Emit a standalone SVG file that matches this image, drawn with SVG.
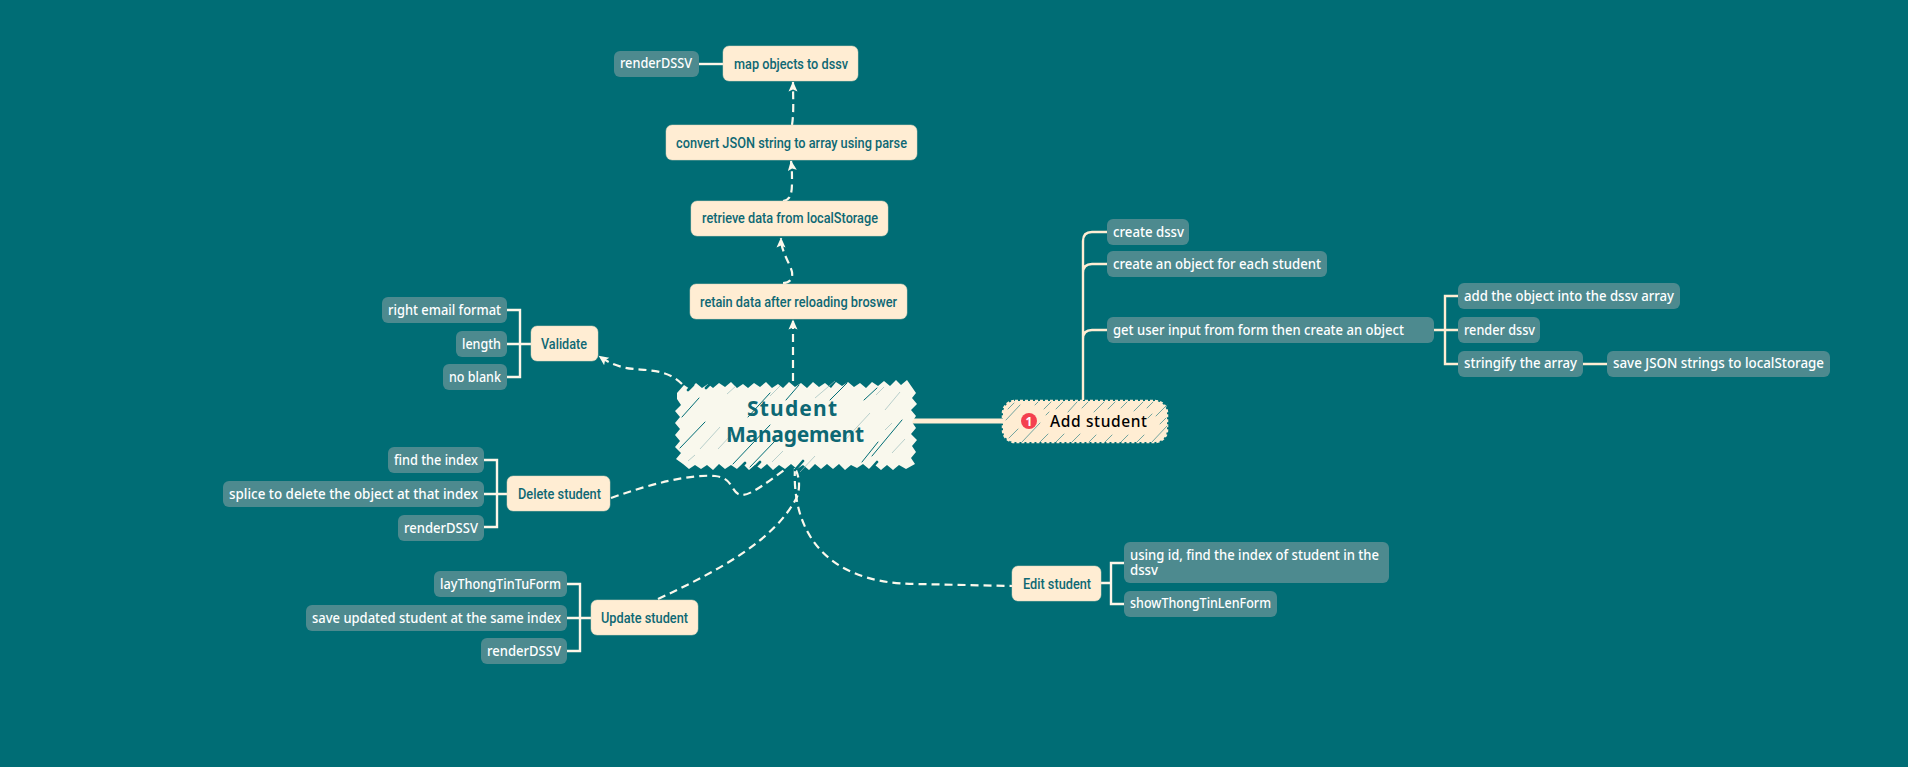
<svg xmlns="http://www.w3.org/2000/svg" width="1908" height="767" viewBox="0 0 1908 767">
<style>
.n{fill:#FFEDD3;stroke:#d8d4bd;stroke-width:.5}
.k{fill:#4D8A8F}
.nt{font:500 14px Roboto,"Liberation Sans",sans-serif;fill:#0E6874}
.kt{font:500 13.5px "Noto Sans","Liberation Sans",sans-serif;fill:#fff}
.dash{fill:none;stroke:#FBF8EC;stroke-width:2.2;stroke-dasharray:8 5}
.ln{fill:none;stroke:#FDF6E8;stroke-width:2.4}
.cr{fill:none;stroke:#FFEDD3;stroke-width:2.4}
.h{fill:none;stroke:#006D75;stroke-linecap:round}
.hl{fill:none;stroke:#9CBDBB;stroke-width:.7}
.h2{fill:none;stroke:#4E9092;stroke-width:.8;stroke-linecap:round}
.rt{font:700 21px "Noto Sans",sans-serif;fill:#0E6874}
</style>
<defs>
<marker id="ar" markerUnits="userSpaceOnUse" markerWidth="11" markerHeight="11" refX="9.5" refY="5" orient="auto"><path d="M0 .5L10 5L0 9.5L2 5Z" fill="#FBF8EC"/></marker>
</defs>
<rect width="1908" height="767" fill="#006D75"/>
<g id="connectors">
<path class="dash" marker-end="url(#ar)" d="M682 384C664 366 640 372 622 367C612 364 606 361 599 356"/>
<path class="dash" marker-end="url(#ar)" d="M793 381V320"/>
<path class="dash" marker-end="url(#ar)" d="M783 283C790 283 793 279 792 272C790 263 781 252 781 238"/>
<path class="dash" marker-end="url(#ar)" d="M783 201C790 200 792 195 792 182C792 174 792 168 791 161"/>
<path class="dash" marker-end="url(#ar)" d="M792 125C794 112 793 98 793 82"/>
<path class="dash" d="M611 498C650 484 690 474 715 476C735 478 730 494 742 495C752 495 770 480 787 468"/>
<path class="dash" d="M658 599C720 570 775 540 797 497C800 488 800 478 795 468"/>
<path class="dash" d="M795 468C792 520 815 584 917 584L1013 586"/>
<path d="M906 421H1004" fill="none" stroke="#FFEDD3" stroke-width="5"/>
<path class="cr" d="M1083 400V241Q1083 232 1092 232H1107M1083 273Q1083 264 1092 264H1107M1083 339Q1083 330 1092 330H1107"/>
<path class="cr" d="M1434 330H1458M1458 296H1445V364H1458M1583 364H1607"/>
<path class="ln" d="M699 64H723"/>
<path class="ln" d="M507 310H520V377H507M507 344H531"/>
<path class="ln" d="M484 460H497V527H484M484 494H507"/>
<path class="ln" d="M567 584H580V651H567M567 618H591"/>
<path class="ln" d="M1101 583H1111M1124 563H1111V604H1124"/>
</g>
<g id="root">
<polygon fill="#F9F8ED" points="677,393 684,385 690,389 696,383 702,388 708,384 713,388 719,383 725,387 731,382 737,388 743,384 748,388 754,383 760,387 766,382 772,388 778,384 783,388 789,382 795,387 801,383 807,388 813,382 819,387 825,383 831,388 836,382 842,386 848,382 854,387 860,383 866,388 872,382 878,386 884,381 890,386 896,380 901,385 907,380 916,393 912,398 917,404 911,410 916,416 912,422 916,428 911,434 917,440 912,446 916,452 911,458 915,464 906,469 899,465 893,470 887,465 881,470 875,465 869,469 863,464 857,468 851,465 845,470 839,464 833,469 827,464 821,469 815,464 809,470 803,465 797,469 791,464 785,469 779,465 773,470 767,464 761,469 755,465 749,470 743,464 737,469 731,465 725,469 719,464 713,470 707,465 701,469 695,465 689,469 683,464 676,459 681,453 675,447 680,441 675,435 680,429 675,423 680,417 675,411 681,405 677,399"/>
<path class="h" stroke-width="1" d="M682 417L699 398M680 448L705 422M733 464L770 425M750 467L775 441M748 417L770 393M830 400L847 383M864 400L877 388M786 400L799 385M902 420L872 456M878 442L862 462"/>
<path class="h" stroke-width="2.6" d="M738 470L745 463M752 470L760 462M869 471L877 462M795 470L803 461M688 390L693 385M706 388L712 382"/>
<path class="hl" d="M700 449L720 427M718 449L733 433M800 472L815 456M688 461L695 455M727 394L736 386M770 396L780 386M845 440L870 413M885 410L900 392M876 395L884 387M892 453L905 439M815 398L835 381M772 462L783 451M885 430L892 423"/>
<text class="rt" x="747" y="416" textLength="90" lengthAdjust="spacing">Student</text>
<text class="rt" x="726" y="442" textLength="138" lengthAdjust="spacing">Management</text>
</g>
<g id="add-student">
<rect x="1003" y="401" width="164" height="41" rx="12" fill="#FFEDD3" stroke="#FFEDD3" stroke-width="2.5" stroke-dasharray="3 2"/>
<path class="h2" d="M1008 409L1014 403M1006 420L1020 405M1009 438L1018 429M1022 442L1040 423M1035 405L1038 402M1044 409L1051 402M1056 409L1063 402M1068 412L1077 402M1082 408L1088 402M1094 412L1104 402M1108 409L1115 402M1121 408L1127 402M1134 411L1143 402M1147 408L1153 402M1156 416L1167 405M1152 442L1167 426M1160 424L1166 418M1040 442L1048 434M1056 442L1064 434M1072 442L1080 434M1089 442L1096 435M1105 442L1112 435M1121 442L1128 435M1137 442L1144 435M1148 418L1152 414M1046 415L1049 412"/>
<circle cx="1029" cy="421" r="8" fill="#F4404F"/>
<text x="1029" y="425.5" text-anchor="middle" font-family="'Noto Sans',sans-serif" font-weight="700" font-size="12" fill="#fff">1</text>
<text x="1050" y="427" textLength="97" lengthAdjust="spacing" font-family="'Noto Sans',sans-serif" font-weight="500" font-size="15.5" fill="#000">Add student</text>
</g>
<g id="create-dssv"><rect class="k" x="1107" y="219" width="82" height="26" rx="6"/><text class="kt" x="1113" y="236.5" textLength="71" lengthAdjust="spacingAndGlyphs">create dssv</text></g>
<g id="create-object"><rect class="k" x="1107" y="251" width="220" height="26" rx="6"/><text class="kt" x="1113" y="269" textLength="208" lengthAdjust="spacingAndGlyphs">create an object for each student</text></g>
<g id="get-input"><rect class="k" x="1107" y="317" width="327" height="26" rx="6"/><text class="kt" x="1113" y="334.5" textLength="291" lengthAdjust="spacingAndGlyphs">get user input from form then create an object</text></g>
<g id="add-object"><rect class="k" x="1458" y="283" width="222" height="26" rx="6"/><text class="kt" x="1464" y="301" textLength="210" lengthAdjust="spacingAndGlyphs">add the object into the dssv array</text></g>
<g id="render-dssv"><rect class="k" x="1458" y="317" width="82" height="26" rx="6"/><text class="kt" x="1464" y="334.5" textLength="71" lengthAdjust="spacingAndGlyphs">render dssv</text></g>
<g id="stringify"><rect class="k" x="1458" y="351" width="125" height="26" rx="6"/><text class="kt" x="1464" y="368" textLength="113" lengthAdjust="spacingAndGlyphs">stringify the array</text></g>
<g id="save-json"><rect class="k" x="1607" y="351" width="223" height="26" rx="6"/><text class="kt" x="1613" y="368" textLength="211" lengthAdjust="spacingAndGlyphs">save JSON strings to localStorage</text></g>
<g id="retain"><rect class="n" x="690" y="284" width="217" height="35" rx="6"/><text class="nt" x="700" y="306.5" textLength="197" lengthAdjust="spacingAndGlyphs">retain data after reloading broswer</text></g>
<g id="retrieve"><rect class="n" x="691" y="201" width="197" height="35" rx="6"/><text class="nt" x="702" y="223" textLength="176" lengthAdjust="spacingAndGlyphs">retrieve data from localStorage</text></g>
<g id="convert"><rect class="n" x="666" y="125" width="251" height="35" rx="6"/><text class="nt" x="676" y="147.5" textLength="231" lengthAdjust="spacingAndGlyphs">convert JSON string to array using parse</text></g>
<g id="map-objects"><rect class="n" x="723" y="46" width="135" height="35" rx="6"/><text class="nt" x="734" y="68.5" textLength="114" lengthAdjust="spacingAndGlyphs">map objects to dssv</text></g>
<g id="render-top"><rect class="k" x="614" y="51" width="85" height="26" rx="6"/><text class="kt" x="620" y="68" textLength="72" lengthAdjust="spacingAndGlyphs">renderDSSV</text></g>
<g id="validate"><rect class="n" x="531" y="326" width="67" height="35" rx="6"/><text class="nt" x="541" y="348.5" textLength="46" lengthAdjust="spacingAndGlyphs">Validate</text></g>
<g id="right-email"><rect class="k" x="382" y="297" width="125" height="26" rx="6"/><text class="kt" x="388" y="314.5" textLength="113" lengthAdjust="spacingAndGlyphs">right email format</text></g>
<g id="length"><rect class="k" x="456" y="331" width="51" height="26" rx="6"/><text class="kt" x="462" y="348.5" textLength="39" lengthAdjust="spacingAndGlyphs">length</text></g>
<g id="no-blank"><rect class="k" x="443" y="364" width="64" height="26" rx="6"/><text class="kt" x="449" y="382" textLength="52" lengthAdjust="spacingAndGlyphs">no blank</text></g>
<g id="delete"><rect class="n" x="507" y="476" width="103" height="35" rx="6"/><text class="nt" x="518" y="498.5" textLength="83" lengthAdjust="spacingAndGlyphs">Delete student</text></g>
<g id="find-index"><rect class="k" x="388" y="447" width="96" height="26" rx="6"/><text class="kt" x="394" y="465" textLength="84" lengthAdjust="spacingAndGlyphs">find the index</text></g>
<g id="splice"><rect class="k" x="223" y="481" width="261" height="26" rx="6"/><text class="kt" x="229" y="498.5" textLength="249" lengthAdjust="spacingAndGlyphs">splice to delete the object at that index</text></g>
<g id="render-delete"><rect class="k" x="398" y="515" width="86" height="26" rx="6"/><text class="kt" x="404" y="532.5" textLength="74" lengthAdjust="spacingAndGlyphs">renderDSSV</text></g>
<g id="update"><rect class="n" x="591" y="600" width="107" height="35" rx="6"/><text class="nt" x="601" y="622.5" textLength="87" lengthAdjust="spacingAndGlyphs">Update student</text></g>
<g id="lay-form"><rect class="k" x="434" y="571" width="133" height="26" rx="6"/><text class="kt" x="440" y="588.5" textLength="121" lengthAdjust="spacingAndGlyphs">layThongTinTuForm</text></g>
<g id="save-updated"><rect class="k" x="306" y="605" width="261" height="26" rx="6"/><text class="kt" x="312" y="622.5" textLength="249" lengthAdjust="spacingAndGlyphs">save updated student at the same index</text></g>
<g id="render-update"><rect class="k" x="481" y="638" width="86" height="26" rx="6"/><text class="kt" x="487" y="656" textLength="74" lengthAdjust="spacingAndGlyphs">renderDSSV</text></g>
<g id="edit"><rect class="n" x="1012" y="566" width="89" height="35" rx="6"/><text class="nt" x="1023" y="588.5" textLength="68" lengthAdjust="spacingAndGlyphs">Edit student</text></g>
<g id="using-id"><rect class="k" x="1124" y="542" width="265" height="41" rx="6"/><text class="kt"><tspan x="1130" y="560" textLength="249" lengthAdjust="spacingAndGlyphs">using id, find the index of student in the</tspan><tspan x="1130" y="575" textLength="28" lengthAdjust="spacingAndGlyphs">dssv</tspan></text></g>
<g id="show-form"><rect class="k" x="1124" y="591" width="153" height="26" rx="6"/><text class="kt" x="1130" y="608" textLength="141" lengthAdjust="spacingAndGlyphs">showThongTinLenForm</text></g>
</svg>
